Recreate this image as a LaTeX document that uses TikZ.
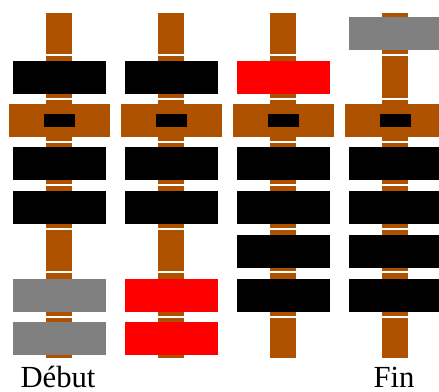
\documentclass[tikz,border=0pt]{standalone}
\usepackage{fontspec}
\setmainfont{Liberation Serif}
\definecolor{rodbrown}{RGB}{175,82,0}
\definecolor{beadgray}{RGB}{128,128,128}
\definecolor{beadred}{RGB}{255,0,0}
\begin{document}
\begin{tikzpicture}[x=0.75pt,y=-0.75pt,node distance=84pt]

% Define styles
\tikzstyle{bead} = [rectangle, minimum width=69.75pt, minimum height=24.75pt, inner sep=0pt, fill=black]
\tikzstyle{beam} = [rectangle, minimum width=75.75pt, minimum height=24.75pt, inner sep=0pt, fill=rodbrown]
\tikzstyle{hole} = [rectangle, minimum width=23.25pt, minimum height=9.75pt, inner sep=0pt, fill=black]
\tikzstyle{gap} = [white, line width=1.2pt]
\tikzstyle{caption} = [anchor=base, font=\fontsize{23}{26}\selectfont]

\useasboundingbox (0,0) rectangle (439,392);

% Rods with their gaps
\foreach \x in {59,171,283,395} {
  \fill[rodbrown] (\x-13,13) rectangle (\x+13,358);
  \foreach \y in {55,99,142,185,229,272,317}
    \draw[gap] (\x-13,\y) -- (\x+13,\y);
}

% Beams
\node (beam1) [beam] at (59,120.5) {};
\node (beam2) [beam, right of = beam1] {};
\node (beam3) [beam, right of = beam2] {};
\node (beam4) [beam, right of = beam3] {};
\node (hole1) [hole] at (beam1) {};
\node (hole2) [hole] at (beam2) {};
\node (hole3) [hole] at (beam3) {};
\node (hole4) [hole] at (beam4) {};

% Column 1
\node (a1) [bead] at (59,77.5) {};
\node (a2) [bead] at (59,164) {};
\node (a3) [bead] at (59,207.5) {};
\node (a4) [bead, fill=beadgray] at (59,295) {};
\node (a5) [bead, fill=beadgray] at (59,338) {};

% Column 2
\node (b1) [bead] at (171,77.5) {};
\node (b2) [bead] at (171,164) {};
\node (b3) [bead] at (171,207.5) {};
\node (b4) [bead, fill=beadred] at (171,295) {};
\node (b5) [bead, fill=beadred] at (171,338) {};

% Column 3
\node (c1) [bead, fill=beadred] at (283,77.5) {};
\node (c2) [bead] at (283,164) {};
\node (c3) [bead] at (283,207.5) {};
\node (c4) [bead] at (283,251.5) {};
\node (c5) [bead] at (283,295) {};

% Column 4
\node (d1) [bead, fill=beadgray] at (395,33.5) {};
\node (d2) [bead] at (395,164) {};
\node (d3) [bead] at (395,207.5) {};
\node (d4) [bead] at (395,251.5) {};
\node (d5) [bead] at (395,295) {};

% Captions
\node (debut) [caption] at (58,387) {Début};
\node (fin) [caption] at (394,387) {Fin};

\end{tikzpicture}
\end{document}
